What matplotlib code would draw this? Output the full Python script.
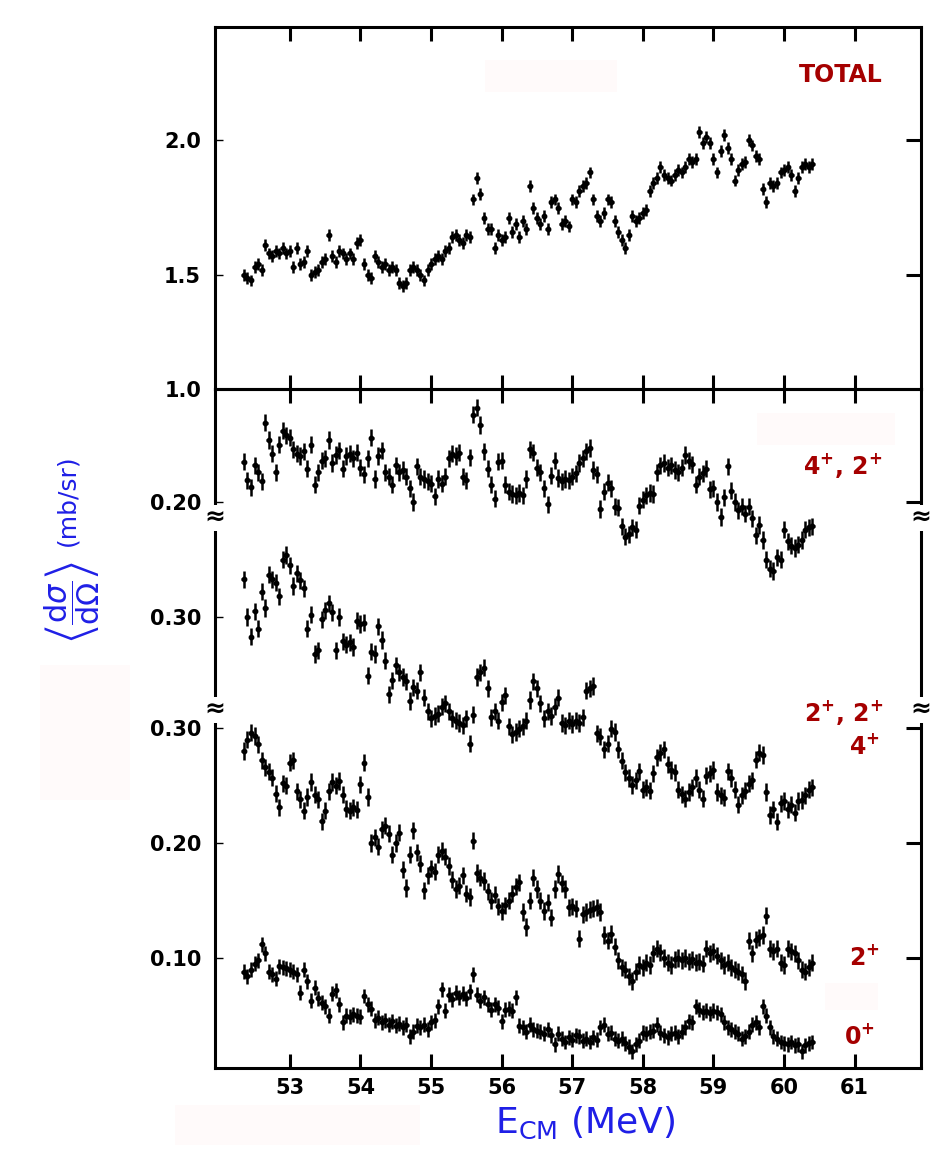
import numpy as np
import matplotlib.pyplot as plt
from matplotlib.patches import Rectangle
from matplotlib.transforms import blended_transform_factory

plt.rcParams['font.family'] = ['DejaVu Sans']
plt.rcParams['mathtext.fontset'] = 'dejavusans'

# energy grid of the excitation functions (MeV)
E_START = 52.35
E_STEP = 0.05

# total cross section (mb/sr)
total = [1.50, 1.49, 1.48, 1.53, 1.54, 1.52, 1.61, 1.58, 1.57, 1.59,
         1.58, 1.60, 1.58, 1.59, 1.53, 1.60, 1.54, 1.55, 1.59, 1.50,
         1.51, 1.52, 1.55, 1.56, 1.65, 1.57, 1.55, 1.59, 1.58, 1.56,
         1.58, 1.56, 1.62, 1.63, 1.54, 1.50, 1.49, 1.57, 1.55, 1.53,
         1.54, 1.52, 1.53, 1.52, 1.47, 1.46, 1.47, 1.52, 1.53, 1.52,
         1.50, 1.48, 1.52, 1.54, 1.56, 1.57, 1.56, 1.59, 1.60, 1.64,
         1.65, 1.63, 1.62, 1.65, 1.64, 1.78, 1.86, 1.80, 1.71, 1.67,
         1.67, 1.60, 1.65, 1.63, 1.64, 1.71, 1.66, 1.69, 1.64, 1.70,
         1.67, 1.83, 1.75, 1.71, 1.69, 1.72, 1.67, 1.77, 1.78, 1.75,
         1.69, 1.70, 1.68, 1.78, 1.77, 1.81, 1.83, 1.84, 1.88, 1.78,
         1.72, 1.70, 1.73, 1.78, 1.77, 1.70, 1.66, 1.63, 1.60, 1.65,
         1.72, 1.70, 1.71, 1.73, 1.74, 1.81, 1.84, 1.86, 1.90, 1.87,
         1.86, 1.85, 1.87, 1.89, 1.88, 1.90, 1.93, 1.92, 1.93, 2.03,
         1.99, 2.01, 1.99, 1.93, 1.88, 1.96, 2.02, 1.97, 1.93, 1.85,
         1.89, 1.91, 1.92, 2.00, 1.98, 1.94, 1.93, 1.82, 1.77, 1.84,
         1.83, 1.84, 1.88, 1.89, 1.90, 1.87, 1.81, 1.86, 1.90, 1.91,
         1.90, 1.91]

# 4+,2+ channel
ch_42 = [0.235, 0.219, 0.213, 0.232, 0.226, 0.218, 0.269, 0.254, 0.242, 0.226,
         0.250, 0.262, 0.258, 0.256, 0.246, 0.242, 0.240, 0.244, 0.229, 0.250,
         0.215, 0.226, 0.236, 0.238, 0.254, 0.234, 0.241, 0.245, 0.229, 0.240,
         0.242, 0.238, 0.243, 0.230, 0.224, 0.238, 0.256, 0.220, 0.240, 0.245,
         0.226, 0.222, 0.215, 0.232, 0.226, 0.228, 0.222, 0.212, 0.200, 0.231,
         0.222, 0.220, 0.218, 0.216, 0.205, 0.220, 0.216, 0.222, 0.238, 0.242,
         0.240, 0.243, 0.222, 0.219, 0.239, 0.276, 0.282, 0.267, 0.244, 0.229,
         0.215, 0.203, 0.235, 0.236, 0.215, 0.209, 0.207, 0.206, 0.208, 0.206,
         0.220, 0.246, 0.243, 0.230, 0.226, 0.212, 0.198, 0.223, 0.236, 0.221,
         0.218, 0.220, 0.219, 0.222, 0.225, 0.234, 0.238, 0.244, 0.247, 0.228,
         0.224, 0.194, 0.209, 0.217, 0.212, 0.196, 0.195, 0.179, 0.170, 0.172,
         0.178, 0.176, 0.197, 0.202, 0.206, 0.208, 0.207, 0.226, 0.232, 0.234,
         0.230, 0.232, 0.228, 0.226, 0.230, 0.241, 0.236, 0.233, 0.215, 0.222,
         0.225, 0.229, 0.211, 0.212, 0.200, 0.187, 0.204, 0.231, 0.210, 0.200,
         0.193, 0.196, 0.190, 0.196, 0.186, 0.171, 0.180, 0.167, 0.150, 0.142,
         0.140, 0.152, 0.150, 0.176, 0.166, 0.162, 0.160, 0.163, 0.167, 0.176,
         0.178, 0.179]

# 2+,2+,4+ channel
ch_224 = [0.333, 0.300, 0.283, 0.305, 0.290, 0.322, 0.308, 0.337, 0.333, 0.330,
          0.318, 0.350, 0.354, 0.345, 0.327, 0.338, 0.332, 0.325, 0.290, 0.302,
          0.268, 0.271, 0.298, 0.306, 0.312, 0.304, 0.271, 0.300, 0.279, 0.276,
          0.278, 0.274, 0.297, 0.294, 0.295, 0.249, 0.270, 0.268, 0.292, 0.280,
          0.262, 0.233, 0.245, 0.258, 0.252, 0.248, 0.244, 0.227, 0.239, 0.236,
          0.252, 0.230, 0.218, 0.212, 0.214, 0.216, 0.222, 0.225, 0.218, 0.212,
          0.210, 0.208, 0.206, 0.212, 0.190, 0.215, 0.248, 0.252, 0.256, 0.238,
          0.213, 0.218, 0.210, 0.226, 0.232, 0.205, 0.198, 0.200, 0.203, 0.205,
          0.210, 0.228, 0.244, 0.238, 0.225, 0.212, 0.218, 0.214, 0.222, 0.230,
          0.208, 0.206, 0.210, 0.207, 0.210, 0.208, 0.213, 0.236, 0.238, 0.240,
          0.199, 0.196, 0.185, 0.190, 0.203, 0.200, 0.185, 0.175, 0.165, 0.160,
          0.154, 0.158, 0.166, 0.150, 0.152, 0.149, 0.164, 0.178, 0.182, 0.185,
          0.172, 0.167, 0.165, 0.150, 0.146, 0.142, 0.148, 0.152, 0.160, 0.150,
          0.142, 0.162, 0.164, 0.167, 0.148, 0.145, 0.143, 0.166, 0.160, 0.150,
          0.137, 0.145, 0.149, 0.155, 0.158, 0.176, 0.182, 0.180, 0.148, 0.128,
          0.133, 0.122, 0.138, 0.140, 0.133, 0.137, 0.130, 0.140, 0.141, 0.145,
          0.150, 0.152]

# 2+ channel
ch_2 = [0.280, 0.290, 0.296, 0.293, 0.286, 0.272, 0.266, 0.262, 0.257, 0.243,
        0.231, 0.252, 0.250, 0.270, 0.272, 0.245, 0.238, 0.228, 0.240, 0.253,
        0.242, 0.238, 0.219, 0.228, 0.245, 0.253, 0.250, 0.254, 0.242, 0.230,
        0.228, 0.231, 0.229, 0.251, 0.270, 0.240, 0.200, 0.205, 0.197, 0.212,
        0.215, 0.208, 0.190, 0.200, 0.209, 0.177, 0.161, 0.190, 0.211, 0.192,
        0.182, 0.159, 0.172, 0.178, 0.175, 0.190, 0.193, 0.188, 0.180, 0.168,
        0.160, 0.163, 0.172, 0.156, 0.153, 0.202, 0.174, 0.170, 0.167, 0.158,
        0.150, 0.155, 0.145, 0.141, 0.146, 0.150, 0.156, 0.162, 0.166, 0.140,
        0.127, 0.150, 0.170, 0.160, 0.150, 0.141, 0.148, 0.135, 0.160, 0.173,
        0.165, 0.160, 0.144, 0.145, 0.143, 0.117, 0.138, 0.140, 0.142, 0.143,
        0.144, 0.140, 0.120, 0.115, 0.121, 0.110, 0.098, 0.092, 0.090, 0.084,
        0.080, 0.088, 0.094, 0.092, 0.096, 0.094, 0.104, 0.108, 0.105, 0.100,
        0.096, 0.094, 0.099, 0.100, 0.098, 0.100, 0.097, 0.099, 0.096, 0.097,
        0.095, 0.108, 0.104, 0.106, 0.102, 0.098, 0.094, 0.096, 0.092, 0.090,
        0.088, 0.086, 0.080, 0.115, 0.104, 0.116, 0.118, 0.120, 0.137, 0.108,
        0.106, 0.108, 0.096, 0.094, 0.108, 0.106, 0.104, 0.098, 0.090, 0.088,
        0.092, 0.096]

# 0+ channel
ch_0 = [0.088, 0.084, 0.090, 0.095, 0.098, 0.112, 0.104, 0.088, 0.086, 0.082,
        0.093, 0.092, 0.091, 0.090, 0.088, 0.086, 0.070, 0.090, 0.080, 0.063,
        0.074, 0.065, 0.061, 0.058, 0.050, 0.069, 0.072, 0.060, 0.044, 0.050,
        0.049, 0.051, 0.050, 0.049, 0.067, 0.060, 0.056, 0.046, 0.048, 0.044,
        0.046, 0.042, 0.045, 0.041, 0.043, 0.040, 0.042, 0.032, 0.036, 0.041,
        0.040, 0.042, 0.038, 0.044, 0.046, 0.058, 0.073, 0.054, 0.068, 0.064,
        0.070, 0.066, 0.069, 0.065, 0.071, 0.086, 0.068, 0.063, 0.066, 0.060,
        0.055, 0.060, 0.057, 0.045, 0.055, 0.056, 0.054, 0.066, 0.041, 0.040,
        0.036, 0.042, 0.038, 0.037, 0.036, 0.034, 0.038, 0.033, 0.025, 0.034,
        0.030, 0.027, 0.031, 0.029, 0.033, 0.032, 0.028, 0.030, 0.027, 0.031,
        0.029, 0.040, 0.042, 0.034, 0.035, 0.030, 0.028, 0.030, 0.026, 0.023,
        0.019, 0.025, 0.028, 0.035, 0.034, 0.036, 0.037, 0.042, 0.035, 0.033,
        0.031, 0.034, 0.035, 0.032, 0.036, 0.040, 0.045, 0.044, 0.058, 0.055,
        0.053, 0.054, 0.052, 0.054, 0.053, 0.051, 0.044, 0.040, 0.038, 0.036,
        0.034, 0.030, 0.032, 0.036, 0.042, 0.044, 0.040, 0.058, 0.050, 0.040,
        0.032, 0.030, 0.027, 0.026, 0.025, 0.027, 0.024, 0.025, 0.019, 0.024,
        0.026, 0.027]

xticks = [53, 54, 55, 56, 57, 58, 59, 60, 61]
top_ticks = [1.078, 1.5, 2.0]
top_labels = ['1.0', '1.5', '2.0']

# the lower panel stacks three scales; upper channels are shifted by these offsets
OFF_224 = 0.0965
OFF_42 = 0.2965
low_ticks = [0.10, 0.20, 0.30, 0.30 + OFF_224, 0.20 + OFF_42]
low_labels = ['0.10', '0.20', '0.30', '0.30', '0.20']
breaks = [0.3157, 0.4826]

red = '#a50000'
blue = '#1f1fe6'

fig = plt.figure(figsize=(9.32, 11.5), dpi=100)
fig.patch.set_facecolor('white')

# faint pinkish blotches of the scanned original
for (x0, y0, w, h) in [(485, 60, 132, 32), (757, 413, 138, 32), (175, 1105, 245, 40),
                       (825, 983, 53, 27), (40, 665, 90, 135)]:
    fig.add_artist(Rectangle((x0 / 932, 1 - (y0 + h) / 1150), w / 932, h / 1150,
                             transform=fig.transFigure, fc='#fffafa', ec='none', zorder=-1))

ax1 = fig.add_axes([0.2307, 0.6617, 0.7575, 0.3148])
ax2 = fig.add_axes([0.2307, 0.0713, 0.7575, 0.5904])


def draw_series(ax, values, offset, err):
    e = E_START + E_STEP * np.arange(len(values))
    ax.errorbar(e, np.asarray(values) + offset, yerr=err, xerr=0.035, fmt='o', ms=3.2,
                mfc='black', mec='black', ecolor='black', elinewidth=1.8, capsize=0, zorder=3)


draw_series(ax1, total, 0.0, 0.022)
draw_series(ax2, ch_42, OFF_42, 0.0075)
draw_series(ax2, ch_224, OFF_224, 0.0075)
draw_series(ax2, ch_2, 0.0, 0.0075)
draw_series(ax2, ch_0, 0.0, 0.0065)

ax1.set_ylim(1.078, 2.4185)
ax2.set_ylim(0.0044, 0.5948)

for ax in (ax1, ax2):
    ax.set_facecolor('none')
    ax.set_xlim(51.94, 61.94)
    for s in ax.spines.values():
        s.set_linewidth(2.2)
    ax.set_xticks(xticks)
    ax.tick_params(axis='x', direction='in', length=10, width=2.2, top=True, bottom=True,
                   labelsize=15, pad=7)
    ax.tick_params(axis='y', direction='in', length=6, width=1, labelsize=15, pad=10)
    for lab in ax.get_xticklabels() + ax.get_yticklabels():
        lab.set_fontweight('bold')

ax1.tick_params(axis='x', labelbottom=False)
ax1.set_yticks(top_ticks)
ax1.set_yticklabels(top_labels, fontweight='bold')
ax2.set_yticks(low_ticks)
ax2.set_yticklabels(low_labels, fontweight='bold')

# longer tick marks along the right spine
for ax, ticks in ((ax1, [1.5, 2.0]), (ax2, [0.10, 0.20, 0.30, 0.20 + OFF_42])):
    r = ax.twinx()
    r.set_ylim(ax.get_ylim())
    r.set_yticks(ticks)
    r.tick_params(axis='y', direction='in', length=11, width=2.2, labelright=False)
    for s in r.spines.values():
        s.set_visible(False)

# axis breaks between the stacked scales
bt = blended_transform_factory(ax2.transAxes, ax2.transData)
for yb in breaks:
    for xa in (0, 1):
        ax2.text(xa, yb, '\u2248', transform=bt, ha='center', va='center', fontsize=18,
                 fontweight='bold', bbox=dict(fc='white', ec='none', pad=0.6),
                 zorder=10, clip_on=False)

lab_kw = dict(ha='right', va='center', color=red, fontsize=17, fontweight='bold')
ax1.text(0.945, 0.867, 'TOTAL', transform=ax1.transAxes, **lab_kw)
ax2.text(0.945, 0.888, r'4$^{\mathbf{+}}$, 2$^{\mathbf{+}}$', transform=ax2.transAxes, **lab_kw)
ax2.text(0.946, 0.524, r'2$^{\mathbf{+}}$, 2$^{\mathbf{+}}$', transform=ax2.transAxes, **lab_kw)
ax2.text(0.942, 0.474, r'4$^{\mathbf{+}}$', transform=ax2.transAxes, **lab_kw)
ax2.text(0.942, 0.163, r'2$^{\mathbf{+}}$', transform=ax2.transAxes, **lab_kw)
ax2.text(0.935, 0.046, r'0$^{\mathbf{+}}$', transform=ax2.transAxes, **lab_kw)

fig.text(0.078, 0.477, r'$\left\langle\dfrac{\mathrm{d}\sigma}{\mathrm{d}\Omega}\right\rangle$',
         rotation=90, color=blue, fontsize=22, ha='center', va='center')
fig.text(0.072, 0.565, '(mb/sr)', rotation=90, color=blue, fontsize=18,
         ha='center', va='center')
fig.text(0.628, 0.024, r'E$_{\mathrm{CM}}$ (MeV)', color=blue, fontsize=26,
         ha='center', va='center')

fig.savefig('out.png', dpi=100)
